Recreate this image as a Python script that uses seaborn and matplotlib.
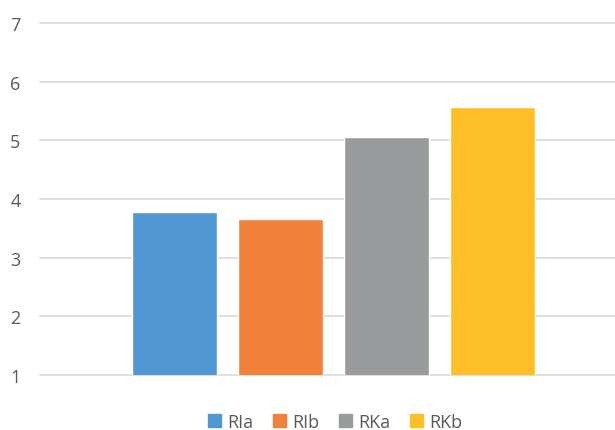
import pandas as pd
import numpy as np
import matplotlib.pyplot as plt
import seaborn as sns

# 데이터
groups = ['RIa', 'RIb', 'RKa', 'RKb']
values = [3.78, 3.66, 5.06, 5.57]
category = ['']

colors = ['#5197D4', '#F2823A', '#999C9D', '#FDBE27']

df = pd.DataFrame({'cat': category * len(groups), 'group': groups, 'value': values})

sns.set_style('white')
plt.rcParams['font.family'] = ['Open Sans', 'DejaVu Sans']

fig = plt.figure(figsize=(6.15, 4.31), dpi=100)
ax = fig.add_axes([40 / 615, 55 / 431, 575 / 615, 352 / 431])

# 막대 (축 최소값 1에서 잘림)
sns.barplot(data=df, x='cat', y='value', hue='group', palette=colors,
            width=0.8, gap=0.2, ax=ax, legend=True, saturation=1)

ax.set_ylim(1, 7)
ax.set_xlim(-0.554, 0.531)
ax.set_yticks(range(1, 8))
ax.set_xticks([])
ax.set_xlabel('')
ax.set_ylabel('')
ax.yaxis.grid(True, color='#D9D9D9', linewidth=1.2)
ax.set_axisbelow(True)
for gl in ax.get_ygridlines():
    gl.set_clip_on(False)
for s in ax.spines.values():
    s.set_visible(False)
ax.tick_params(axis='y', length=0, pad=14, labelsize=13, labelcolor='#595959')

ax.legend_.remove()
handles = [plt.Rectangle((0, 0), 1, 1, color=c) for c in colors]
fig.legend(handles, groups, loc='center', bbox_to_anchor=(335 / 615, 1 - 423 / 431),
           ncol=4, frameon=False, fontsize=13, labelcolor='#595959',
           handlelength=0.7, handleheight=0.7, handletextpad=0.35, columnspacing=1.1)

fig.savefig('out.png', dpi=100)
